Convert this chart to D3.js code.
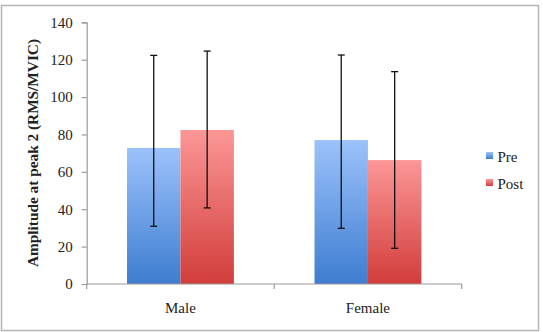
<!DOCTYPE html>
<html>
<head>
<meta charset="utf-8">
<script src="https://cdn.jsdelivr.net/npm/d3@7"></script>
<style>
  html, body { margin: 0; padding: 0; background: #fff; }
  svg { display: block; }
  text { font-family: "Liberation Serif", "DejaVu Serif", serif; fill: #222; }
</style>
</head>
<body>
<svg id="chart" width="543" height="332"></svg>
<script>
const categories = ["Male", "Female"];
const seriesNames = ["Pre", "Post"];
const preValues = [72.8, 77.0];
const postValues = [82.4, 66.3];
const preUpper = [122.3, 122.5];
const preLower = [30.9, 29.8];
const postUpper = [124.6, 113.6];
const postLower = [40.7, 19.1];
const yTicks = [0, 20, 40, 60, 80, 100, 120, 140];
const yTitle = "Amplitude at peak 2 (RMS/MVIC)";

(function () {
const svg = d3.select("#chart");

// outer border
svg.append("rect").attr("x", 1.5).attr("y", 5.5).attr("width", 537).attr("height", 325)
  .attr("fill", "none").attr("stroke", "#b5b5b5").attr("stroke-width", 1.5);

const pLeft = 86.7, pRight = 461.7, pTop = 22.3, pBottom = 284;

const y = d3.scaleLinear().domain([0, 140]).range([pBottom, pTop]);
const x0 = d3.scaleBand().domain(categories).range([pLeft, pRight])
  .paddingInner(0.43).paddingOuter(0.215);
const x1 = d3.scaleBand().domain(seriesNames).range([0, x0.bandwidth()]).padding(0);

const defs = svg.append("defs");
function grad(id, c1, c2) {
  const g = defs.append("linearGradient").attr("id", id)
    .attr("x1", 0).attr("y1", 0).attr("x2", 0).attr("y2", 1);
  g.append("stop").attr("offset", "0%").attr("stop-color", c1);
  g.append("stop").attr("offset", "100%").attr("stop-color", c2);
}
grad("gPre", "#9cc2fb", "#3d7dd0");
grad("gPost", "#fb9796", "#d13d3b");

const data = [];
categories.forEach((c, i) => {
  data.push({cat: c, s: "Pre", v: preValues[i], hi: preUpper[i], lo: preLower[i]});
  data.push({cat: c, s: "Post", v: postValues[i], hi: postUpper[i], lo: postLower[i]});
});

// bars
svg.append("g").selectAll("rect").data(data).join("rect")
  .attr("x", d => x0(d.cat) + x1(d.s))
  .attr("y", d => y(d.v))
  .attr("width", x1.bandwidth())
  .attr("height", d => y(0) - y(d.v))
  .attr("fill", d => d.s === "Pre" ? "url(#gPre)" : "url(#gPost)");

// y axis
const yAxis = d3.axisLeft(y).tickValues(yTicks).tickSize(5).tickPadding(9).tickFormat(d3.format("d"));
const gy = svg.append("g").attr("transform", `translate(${pLeft},0)`).call(yAxis);
gy.select(".domain").attr("stroke", "#9a9a9a").attr("stroke-width", 1.2);
gy.selectAll(".tick line").attr("stroke", "#9a9a9a").attr("stroke-width", 1.2);
gy.selectAll(".tick text").attr("font-size", 15).attr("font-family", "Liberation Serif").attr("fill", "#222");

// x axis line with ticks at band boundaries
const step = x0.step();
const xg = svg.append("g");
xg.append("line").attr("x1", pLeft).attr("x2", pRight).attr("y1", pBottom).attr("y2", pBottom)
  .attr("stroke", "#9a9a9a").attr("stroke-width", 1.2);
const boundaries = [pLeft, pLeft + step, pRight];
xg.selectAll("line.t").data(boundaries).join("line").attr("class", "t")
  .attr("x1", d => d).attr("x2", d => d).attr("y1", pBottom).attr("y2", pBottom + 5)
  .attr("stroke", "#9a9a9a").attr("stroke-width", 1.2);
xg.selectAll("text").data(categories).join("text")
  .attr("x", d => x0(d) + x0.bandwidth() / 2)
  .attr("y", 313)
  .attr("text-anchor", "middle")
  .attr("font-size", 15)
  .text(d => d);

// error bars
const eg = svg.append("g").attr("stroke", "#111").attr("stroke-width", 1.3);
data.forEach(d => {
  const cx = x0(d.cat) + x1(d.s) + x1.bandwidth() / 2;
  eg.append("line").attr("x1", cx).attr("x2", cx).attr("y1", y(d.hi)).attr("y2", y(d.lo));
  eg.append("line").attr("x1", cx - 3.5).attr("x2", cx + 3.5).attr("y1", y(d.hi)).attr("y2", y(d.hi));
  eg.append("line").attr("x1", cx - 3.5).attr("x2", cx + 3.5).attr("y1", y(d.lo)).attr("y2", y(d.lo));
});

// y title
svg.append("text")
  .attr("transform", `translate(37.5,153) rotate(-90)`)
  .attr("text-anchor", "middle")
  .attr("font-size", 15.5)
  .attr("font-weight", "bold")
  .attr("textLength", 228)
  .attr("lengthAdjust", "spacingAndGlyphs")
  .text(yTitle);

// legend
const lg = svg.append("g");
seriesNames.forEach((s, i) => {
  const yy = 152 + i * 27;
  lg.append("rect").attr("x", 486).attr("y", yy).attr("width", 7).attr("height", 7)
    .attr("fill", s === "Pre" ? "url(#gPre)" : "url(#gPost)");
  lg.append("text").attr("x", 497.5).attr("y", yy + 10).attr("font-size", 15).text(s);
});
})();
</script>
</body>
</html>
